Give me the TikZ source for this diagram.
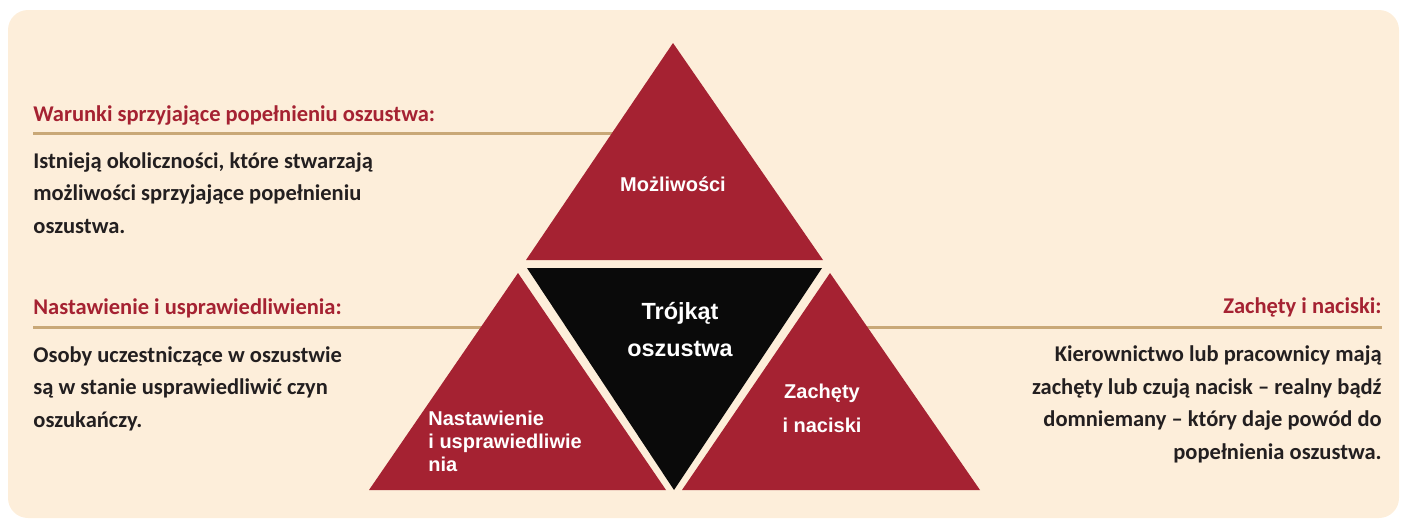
\documentclass[tikz,border=0pt]{standalone}
\usepackage{fontspec}
\newfontfamily\calibf{Carlito}
\newfontfamily\arialf{Liberation Sans}
\definecolor{cream}{HTML}{FDEEDA}
\definecolor{crimson}{HTML}{A52232}
\definecolor{ruletan}{HTML}{C9A877}
\definecolor{inkdark}{HTML}{231F20}
\definecolor{coal}{HTML}{0A0A0A}

\begin{document}
\begin{tikzpicture}[x=0.5pt,y=-0.5pt,
                head/.style={inner sep=0,text=crimson,font=\calibf\bfseries\fontsize{11.25}{16}\selectfont},
                body/.style={inner sep=0,text=inkdark,font=\calibf\bfseries\fontsize{11.25}{16.25}\selectfont},
                rule/.style={draw=ruletan,line width=1.5pt},
                piece/.style={fill=crimson},
                tritext/.style={inner sep=0,text=white,font=\arialf\bfseries\fontsize{10}{11.4}\selectfont}
            ]
                \useasboundingbox (0,0) rectangle (1401,520);
                \fill[cream,rounded corners=10pt] (8,10) rectangle (1399,518);

                % rules under the headings
                \draw[rule] (33,133) -- (620,133);
                \draw[rule] (33,327) -- (490,327);
                \draw[rule] (860,327) -- (1382,327);

                % the four triangles
                \fill[piece] (673,43) -- (823,260) -- (526,260) -- cycle;
                \fill[coal] (527,268) -- (822,268) -- (674,490) -- cycle;
                \fill[piece] (518,273) -- (666,490) -- (369,490) -- cycle;
                \fill[piece] (830,273) -- (980,490) -- (682,490) -- cycle;

                % base of a node with several lines = baseline of its last line
                \node[tritext] (opp) at (673,184) {Możliwości};
                \node[tritext,align=center,anchor=base,font=\arialf\bfseries\fontsize{11.7}{18.5}\selectfont] (core) at (680,356) {Trójkąt\\oszustwa};
                \node[tritext,align=center,anchor=base,font=\arialf\bfseries\fontsize{10}{16.75}\selectfont] (pres) at (822,432) {Zachęty\\i naciski};
                \node[tritext,align=left,anchor=base west] (rat) at (428,471) {Nastawienie\\i usprawiedliwie\\nia};

                % left column
                \node[head,anchor=base west] (h1) at (33,121) {Warunki sprzyjające popełnieniu oszustwa:};
                \node[body,align=left,anchor=base west] (t1) at (33,233)
                    {Istnieją okoliczności, które stwarzają\\możliwości sprzyjające popełnieniu\\oszustwa.};
                \node[head,anchor=base west] (h2) at (33,314) {Nastawienie i usprawiedliwienia:};
                \node[body,align=left,anchor=base west] (t2) at (33,427)
                    {Osoby uczestniczące w oszustwie\\są w stanie usprawiedliwić czyn\\oszukańczy.};

                % right column
                \node[head,anchor=base east] (h3) at (1382,313) {Zachęty i naciski:};
                \node[body,align=right,anchor=base east] (t3) at (1382,459)
                    {Kierownictwo lub pracownicy mają\\zachęty lub czują nacisk – realny bądź\\domniemany – który daje powód do\\popełnienia oszustwa.};
            \end{tikzpicture}
\end{document}
